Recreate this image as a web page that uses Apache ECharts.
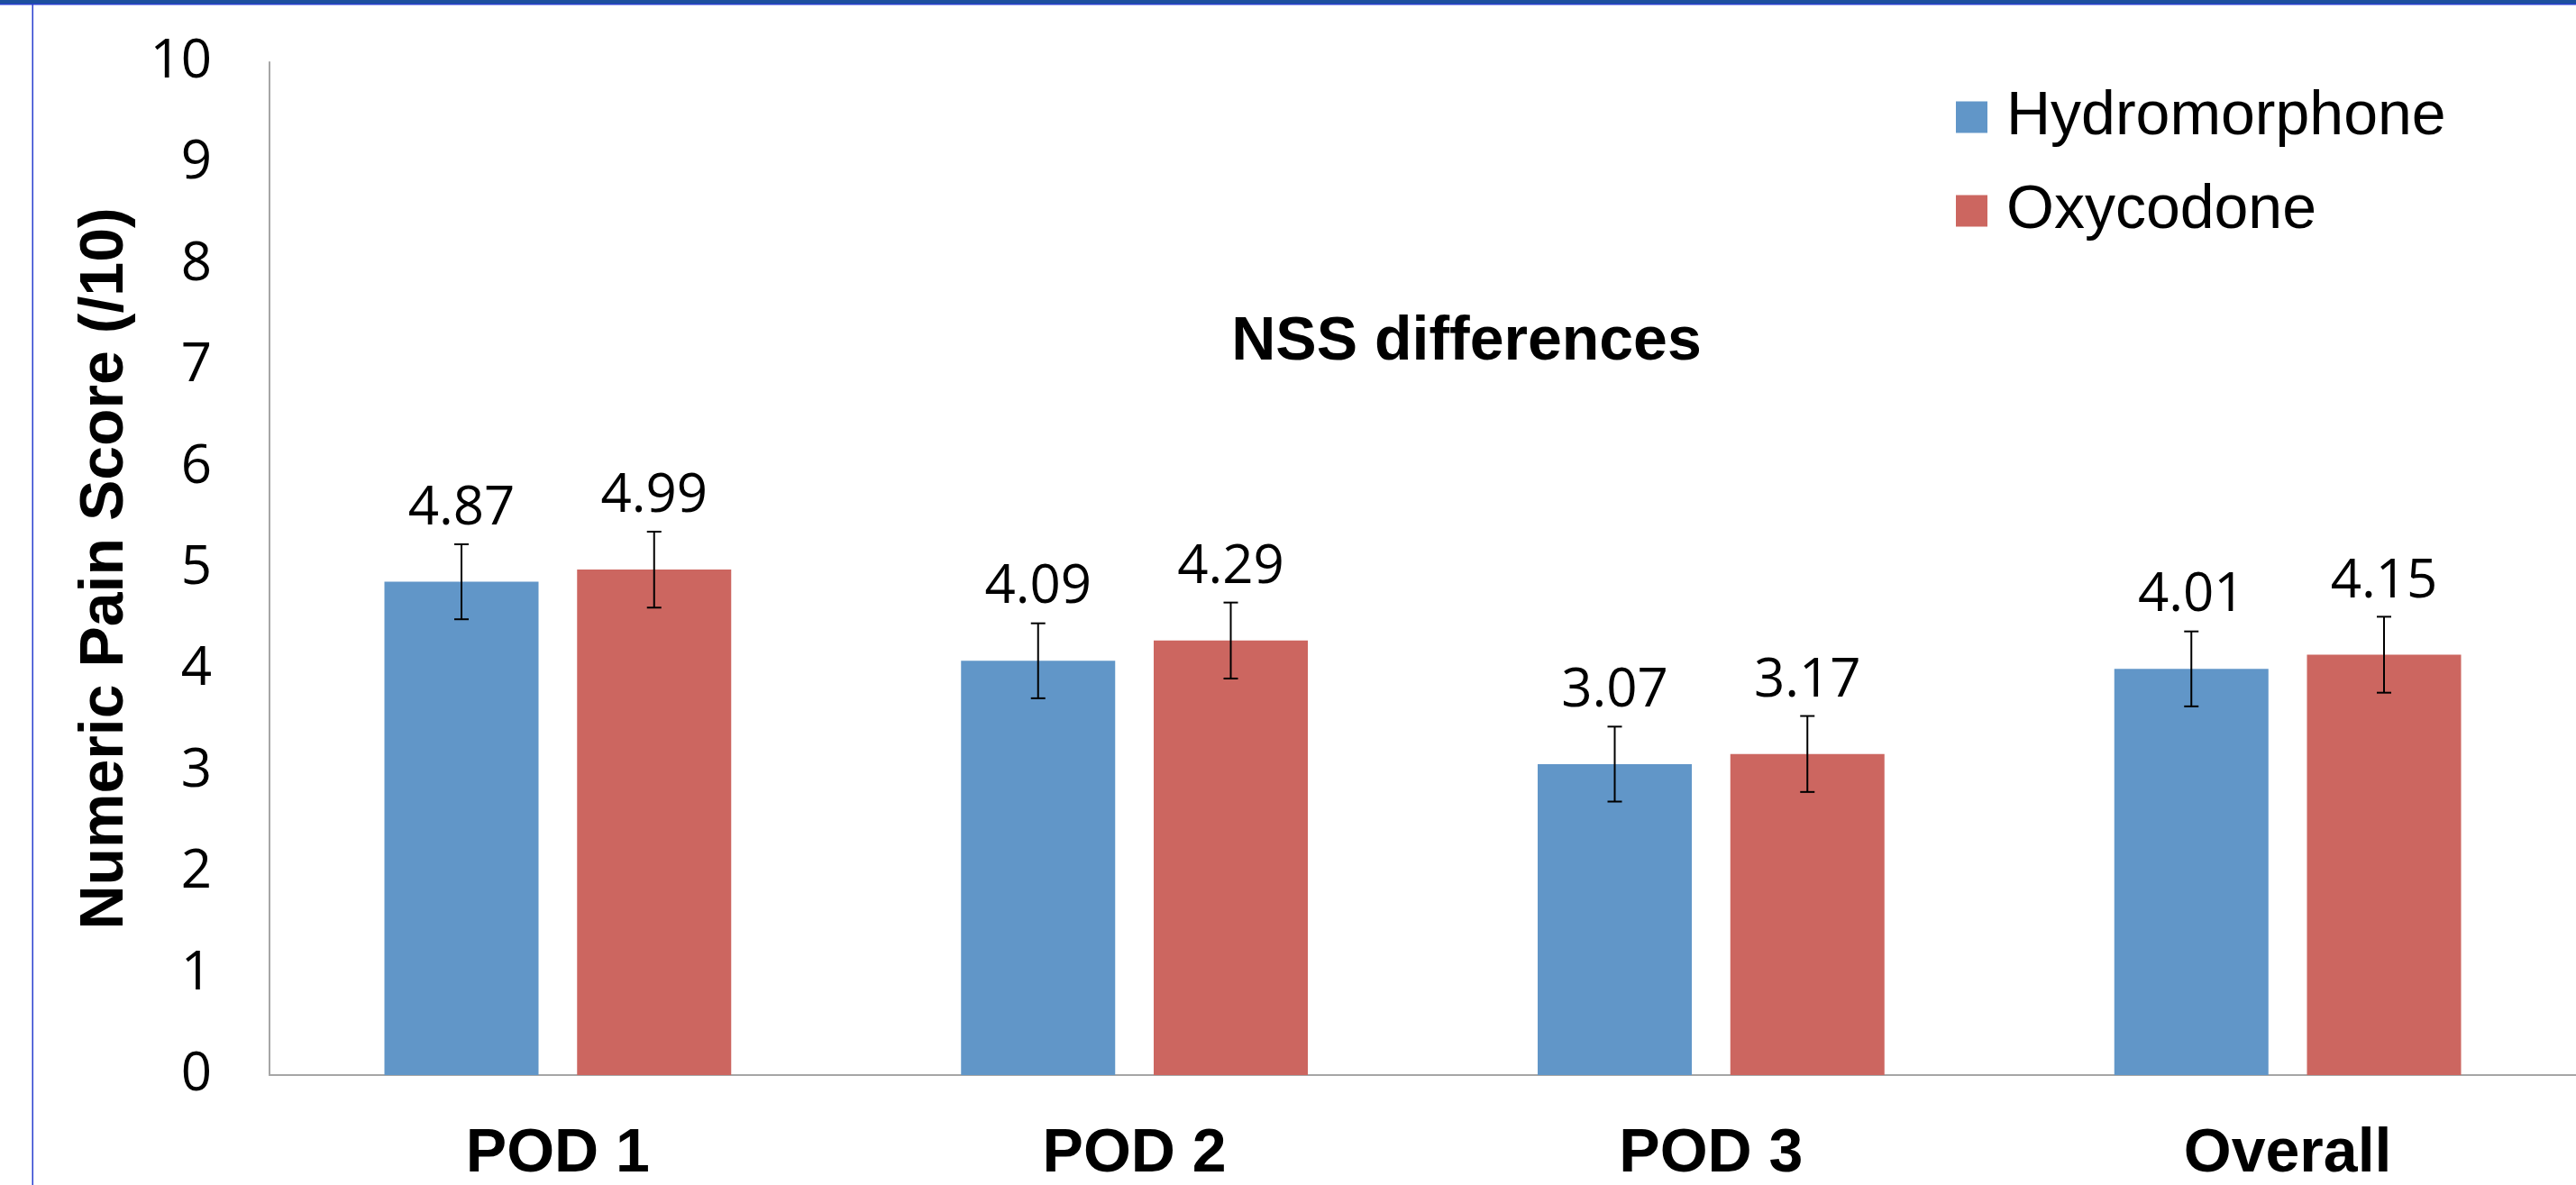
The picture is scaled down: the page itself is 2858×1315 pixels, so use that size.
<!DOCTYPE html>
<html>
<head>
<meta charset="utf-8">
<script src="https://cdn.jsdelivr.net/npm/echarts@6/dist/echarts.min.js"></script>
<style>
html,body{margin:0;padding:0;background:#fff;}
#chart{width:2858px;height:1315px;}
</style>
</head>
<body>
<div id="chart"></div>
<script>
const categories = ['POD 1', 'POD 2', 'POD 3', 'Overall'];
const seriesNames = ['Hydromorphone', 'Oxycodone'];
const hydromorphone = [4.87, 4.09, 3.07, 4.01];
const oxycodone = [4.99, 4.29, 3.17, 4.15];
const hydromorphoneErr = [0.37, 0.37, 0.37, 0.37];
const oxycodoneErr = [0.375, 0.375, 0.375, 0.375];
const yTicks = [0, 1, 2, 3, 4, 5, 6, 7, 8, 9, 10];

const BLUE = '#6196C8';
const RED = '#CC6660';
const BAR_W = 171;
const BAR_GAP = 0.25;
const OFFSET = (BAR_W + BAR_W * BAR_GAP) / 2;

function errSeries(values, errs, sign) {
  return {
    type: 'custom',
    z: 5,
    silent: true,
    data: values.map((v, i) => [i, v, errs[i]]),
    encode: { x: 0, y: 1 },
    renderItem: function (params, api) {
      const idx = api.value(0);
      const v = api.value(1);
      const e = api.value(2);
      const base = api.coord([idx, v]);
      const x = base[0] + sign * OFFSET;
      const hi = api.coord([idx, v + e])[1];
      const lo = api.coord([idx, v - e])[1];
      const cap = 8;
      const st = { stroke: '#000', lineWidth: 2 };
      return {
        type: 'group',
        children: [
          { type: 'line', shape: { x1: x, y1: hi, x2: x, y2: lo }, style: st },
          { type: 'line', shape: { x1: x - cap, y1: hi, x2: x + cap, y2: hi }, style: st },
          { type: 'line', shape: { x1: x - cap, y1: lo, x2: x + cap, y2: lo }, style: st }
        ]
      };
    }
  };
}

const labelStyle = {
  show: true,
  position: 'top',
  distance: 51,
  fontFamily: '"Open Sans"',
  fontSize: 60,
  lineHeight: 60,
  color: '#000',
  formatter: p => p.value.toFixed(2)
};

const chart = echarts.init(document.getElementById('chart'), null, { renderer: 'canvas' });
chart.setOption({
  backgroundColor: '#fff',
  animation: false,
  grid: { left: 299, top: 69, width: 2570, height: 1124, containLabel: false },
  legend: {
    data: seriesNames,
    orient: 'vertical',
    left: 2170,
    top: 96,
    padding: 0,
    itemWidth: 35,
    itemHeight: 35,
    itemGap: 36,
    icon: 'rect',
    textStyle: {
      fontFamily: '"Liberation Sans", Arial',
      fontSize: 68,
      lineHeight: 35,
      color: '#000',
      padding: [0, 0, 0, 16]
    }
  },
  xAxis: {
    type: 'category',
    data: categories,
    axisLine: { show: true, lineStyle: { color: '#A6A6A6', width: 2 } },
    axisTick: { show: false },
    axisLabel: {
      margin: 54,
      fontFamily: '"Liberation Sans", Arial',
      fontWeight: 'bold',
      fontSize: 68,
      lineHeight: 68,
      color: '#000'
    },
    splitLine: { show: false }
  },
  yAxis: {
    type: 'value',
    min: yTicks[0],
    max: yTicks[yTicks.length - 1],
    interval: 1,
    name: 'Numeric Pain Score (/10)',
    nameLocation: 'middle',
    nameGap: 148,
    nameRotate: 90,
    nameTextStyle: {
      fontFamily: '"Liberation Sans", Arial',
      fontWeight: 'bold',
      fontSize: 68,
      lineHeight: 68,
      color: '#000'
    },
    axisLine: { show: true, lineStyle: { color: '#A6A6A6', width: 2 } },
    axisTick: { show: false },
    splitLine: { show: false },
    axisLabel: {
      margin: 64,
      fontFamily: '"Open Sans"',
      fontSize: 60,
      lineHeight: 60,
      color: '#000',
      padding: [12, 0, 0, 0]
    }
  },
  series: [
    {
      name: seriesNames[0],
      type: 'bar',
      data: hydromorphone,
      barWidth: BAR_W,
      barGap: (BAR_GAP * 100) + '%',
      itemStyle: { color: BLUE },
      label: labelStyle,
      z: 2
    },
    {
      name: seriesNames[1],
      type: 'bar',
      data: oxycodone,
      barWidth: BAR_W,
      barGap: (BAR_GAP * 100) + '%',
      itemStyle: { color: RED },
      label: labelStyle,
      z: 2
    },
    errSeries(hydromorphone, hydromorphoneErr, -1),
    errSeries(oxycodone, oxycodoneErr, 1)
  ],
  graphic: [
    { type: 'rect', shape: { x: 0, y: 0, width: 2858, height: 4 }, style: { fill: '#1D4F9E' }, silent: true },
    { type: 'rect', shape: { x: 0, y: 4, width: 2858, height: 1.5 }, style: { fill: '#2A3FD0' }, silent: true },
    { type: 'rect', shape: { x: 35.5, y: 4, width: 1.5, height: 1311 }, style: { fill: '#2A3FD0' }, silent: true },
    {
      type: 'text',
      x: 1627,
      y: 380,
      silent: true,
      style: {
        text: 'NSS differences',
        font: 'bold 68px "Liberation Sans", Arial',
        fill: '#000',
        align: 'center',
        verticalAlign: 'middle',
        textAlign: 'center',
        textVerticalAlign: 'middle'
      }
    }
  ]
});
</script>
</body>
</html>
